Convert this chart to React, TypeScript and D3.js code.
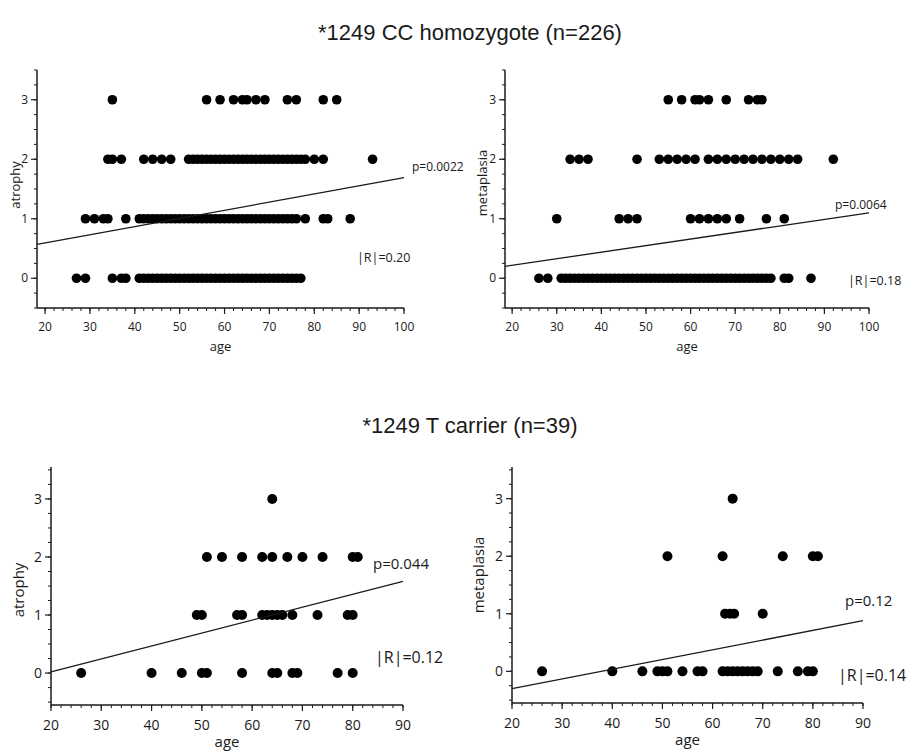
import React from "react";
import * as d3 from "d3";

// ---------- data (ages per grade level) ----------
const ccAtrophy3 = [35, 56, 59, 62, 64, 65, 67, 69, 74, 76, 82, 85];
const ccAtrophy2 = [34, 35, 37, 42, 44, 46, 48, 52, 53, 54, 55, 56, 57, 58, 59, 60, 61, 62, 63, 64, 65, 66, 67, 68, 69, 70, 71, 72, 73, 74, 75, 76, 77, 78, 80, 82, 93];
const ccAtrophy1 = [29, 31, 33, 34, 38, 41, 42, 43, 44, 45, 46, 47, 48, 49, 50, 51, 52, 53, 54, 55, 56, 57, 58, 59, 60, 61, 62, 63, 64, 65, 66, 67, 68, 69, 70, 71, 72, 73, 74, 75, 76, 78, 82, 83, 88];
const ccAtrophy0 = [27, 29, 35, 37, 38, 41, 42, 43, 44, 45, 46, 47, 48, 49, 50, 51, 52, 53, 54, 55, 56, 57, 58, 59, 60, 61, 62, 63, 64, 65, 66, 67, 68, 69, 70, 71, 72, 73, 74, 75, 76, 77];

const ccMeta3 = [55, 58, 61, 62, 64, 68, 73, 75, 76];
const ccMeta2 = [33, 35, 37, 48, 53, 55, 57, 59, 61, 64, 66, 68, 70, 72, 74, 76, 78, 80, 82, 84, 92];
const ccMeta1 = [30, 44, 46, 48, 60, 62, 64, 66, 68, 71, 77, 81];
const ccMeta0 = [26, 28, 31, 32, 33, 34, 35, 36, 37, 38, 39, 40, 41, 42, 43, 44, 45, 46, 47, 48, 49, 50, 51, 52, 53, 54, 55, 56, 57, 58, 59, 60, 61, 62, 63, 64, 65, 66, 67, 68, 69, 70, 71, 72, 73, 74, 75, 76, 77, 78, 81, 82, 87];

const tAtrophy3 = [64];
const tAtrophy2 = [51, 54, 58, 62, 64, 67, 70, 74, 80, 81];
const tAtrophy1 = [49, 50, 57, 58, 62, 63, 64, 65, 66, 68, 73, 79, 80];
const tAtrophy0 = [26, 40, 46, 50, 51, 58, 64, 65, 68, 69, 77, 80];

const tMeta3 = [64];
const tMeta2 = [51, 62, 74, 80, 81];
const tMeta1 = [62.5, 63.5, 64.3, 70];
const tMeta0 = [26, 40, 46, 49, 50, 51, 54, 57, 58, 62, 63, 64, 65, 66, 67, 68, 69, 73, 77, 79, 80];

// regression lines: [age, value] at both ends
const ccAtrophyFit = [[18.2, 0.57], [100, 1.69]];
const ccMetaFit = [[18.4, 0.2], [100, 1.1]];
const tAtrophyFit = [[20, 0.02], [90, 1.58]];
const tMetaFit = [[20, -0.3], [90, 0.88]];

const titles = ["*1249 CC homozygote (n=226)", "*1249 T carrier (n=39)"];
const yTicks = [0, 1, 2, 3];

type Panel = {
  levels: number[][];
  fit: number[][];
  ylabel: string;
  p: string;
  r: string;
  xDomain: [number, number];
  xRange: [number, number];
  yDomain: [number, number];
  yRange: [number, number];
  xTicks: number[];
  xMinorStep: number;
  xMax: number;
  pPos: [number, number];
  rPos: [number, number];
  ylabelPos: [number, number];
  dotR: number;
  tickFont: number;
  labelFont: number;
  pFont: number;
  rFont: number;
  tickDy: number;
  ageDy: number;
};

const panels: Panel[] = [
  {
    levels: [ccAtrophy0, ccAtrophy1, ccAtrophy2, ccAtrophy3],
    fit: ccAtrophyFit,
    ylabel: "atrophy",
    p: "p=0.0022",
    r: "|R|=0.20",
    xDomain: [18.2, 100],
    xRange: [37, 404],
    yDomain: [-0.5, 3.5],
    yRange: [308, 70],
    xTicks: [20, 30, 40, 50, 60, 70, 80, 90, 100],
    xMinorStep: 2,
    xMax: 100,
    pPos: [412, 171],
    rPos: [357, 262],
    ylabelPos: [15, 185],
    dotR: 4.8,
    tickFont: 12,
    labelFont: 13,
    pFont: 12,
    rFont: 12.5,
    tickDy: 23,
    ageDy: 43,
  },
  {
    levels: [ccMeta0, ccMeta1, ccMeta2, ccMeta3],
    fit: ccMetaFit,
    ylabel: "metaplasia",
    p: "p=0.0064",
    r: "|R|=0.18",
    xDomain: [18.4, 100],
    xRange: [505, 869],
    yDomain: [-0.5, 3.5],
    yRange: [308, 70],
    xTicks: [20, 30, 40, 50, 60, 70, 80, 90, 100],
    xMinorStep: 2,
    xMax: 100,
    pPos: [835, 209],
    rPos: [848, 285],
    ylabelPos: [482, 183],
    dotR: 4.8,
    tickFont: 12,
    labelFont: 13,
    pFont: 12,
    rFont: 12.5,
    tickDy: 23,
    ageDy: 43,
  },
  {
    levels: [tAtrophy0, tAtrophy1, tAtrophy2, tAtrophy3],
    fit: tAtrophyFit,
    ylabel: "atrophy",
    p: "p=0.044",
    r: "|R|=0.12",
    xDomain: [20, 90],
    xRange: [51, 403],
    yDomain: [-0.55, 3.55],
    yRange: [705, 467],
    xTicks: [20, 30, 40, 50, 60, 70, 80, 90],
    xMinorStep: 2,
    xMax: 90,
    pPos: [373, 569],
    rPos: [375, 663],
    ylabelPos: [19, 590],
    dotR: 5,
    tickFont: 14,
    labelFont: 15,
    pFont: 15,
    rFont: 16,
    tickDy: 25,
    ageDy: 42,
  },
  {
    levels: [tMeta0, tMeta1, tMeta2, tMeta3],
    fit: tMetaFit,
    ylabel: "metaplasia",
    p: "p=0.12",
    r: "|R|=0.14",
    xDomain: [20, 90],
    xRange: [512, 863],
    yDomain: [-0.55, 3.55],
    yRange: [703, 467],
    xTicks: [20, 30, 40, 50, 60, 70, 80, 90],
    xMinorStep: 2,
    xMax: 90,
    pPos: [845, 606],
    rPos: [838, 681],
    ylabelPos: [479, 575],
    dotR: 5,
    tickFont: 14,
    labelFont: 15,
    pFont: 15,
    rFont: 16,
    tickDy: 25,
    ageDy: 42,
  },
];

const FONT = "'Open Sans', 'DejaVu Sans', sans-serif";
const INK = "#1a1a1a";

function PanelView({ pn }: { pn: Panel }) {
  const x = d3.scaleLinear().domain(pn.xDomain).range(pn.xRange);
  const y = d3.scaleLinear().domain(pn.yDomain).range(pn.yRange);
  const x0 = pn.xRange[0];
  const yb = pn.yRange[0];
  const minorX = d3.range(20, pn.xMax + 0.001, pn.xMinorStep);
  const minorY = d3.range(-0.5, 3.51, 0.25);
  const line = d3
    .line<number[]>()
    .x((d) => x(d[0]))
    .y((d) => y(d[1]));
  return (
    <g>
      {/* axes */}
      <line x1={x0} x2={x0} y1={pn.yRange[1]} y2={yb} stroke={INK} strokeWidth={1.5} />
      <line x1={x0} x2={x(pn.xMax)} y1={yb} y2={yb} stroke={INK} strokeWidth={1.5} />
      {minorY.map((v) => (
        <line key={"my" + v} x1={x0 - 3} x2={x0} y1={y(v)} y2={y(v)} stroke={INK} strokeWidth={1} />
      ))}
      {yTicks.map((v) => (
        <g key={"y" + v}>
          <line x1={x0 - 6} x2={x0} y1={y(v)} y2={y(v)} stroke={INK} strokeWidth={1.2} />
          <text x={x0 - 9} y={y(v)} dy="0.35em" textAnchor="end" fontFamily={FONT} fontSize={pn.tickFont} fill={INK}>
            {v}
          </text>
        </g>
      ))}
      {minorX.map((v) => (
        <line key={"mx" + v} x1={x(v)} x2={x(v)} y1={yb} y2={yb + 3} stroke={INK} strokeWidth={1} />
      ))}
      {pn.xTicks.map((v) => (
        <g key={"x" + v}>
          <line x1={x(v)} x2={x(v)} y1={yb} y2={yb + 6} stroke={INK} strokeWidth={1.2} />
          <text x={x(v)} y={yb + pn.tickDy} textAnchor="middle" fontFamily={FONT} fontSize={pn.tickFont} fill={INK}>
            {v}
          </text>
        </g>
      ))}
      <text
        x={(x0 + x(pn.xMax)) / 2}
        y={yb + pn.ageDy}
        textAnchor="middle"
        fontFamily={FONT}
        fontSize={pn.labelFont}
        fill={INK}
      >
        age
      </text>
      <text
        transform={`translate(${pn.ylabelPos[0]},${pn.ylabelPos[1]}) rotate(-90)`}
        textAnchor="middle"
        dy="0.35em"
        fontFamily={FONT}
        fontSize={pn.labelFont}
        fill={INK}
      >
        {pn.ylabel}
      </text>
      {/* dots */}
      {pn.levels.map((ages, lvl) =>
        ages.map((a, i) => <circle key={lvl + "-" + i} cx={x(a)} cy={y(lvl)} r={pn.dotR} fill="#000" />)
      )}
      {/* fit line */}
      <path d={line(pn.fit) || ""} fill="none" stroke={INK} strokeWidth={1.3} />
      <text x={pn.pPos[0]} y={pn.pPos[1]} fontFamily={FONT} fontSize={pn.pFont} fill={INK}>
        {pn.p}
      </text>
      <text x={pn.rPos[0]} y={pn.rPos[1]} fontFamily={FONT} fontSize={pn.rFont} fill={INK}>
        {pn.r}
      </text>
    </g>
  );
}

export default function App() {
  return (
    <svg width={919} height={752} style={{ position: "absolute", left: 0, top: 0, background: "#fff" }}>
      <rect width={919} height={752} fill="#fff" />
      <text x={470} y={40} textAnchor="middle" fontFamily="'Liberation Sans', Arial, sans-serif" fontSize={22} fill={INK}>
        {titles[0]}
      </text>
      <text x={470} y={433} textAnchor="middle" fontFamily="'Liberation Sans', Arial, sans-serif" fontSize={22} fill={INK}>
        {titles[1]}
      </text>
      {panels.map((pn, i) => (
        <PanelView key={i} pn={pn} />
      ))}
    </svg>
  );
}
